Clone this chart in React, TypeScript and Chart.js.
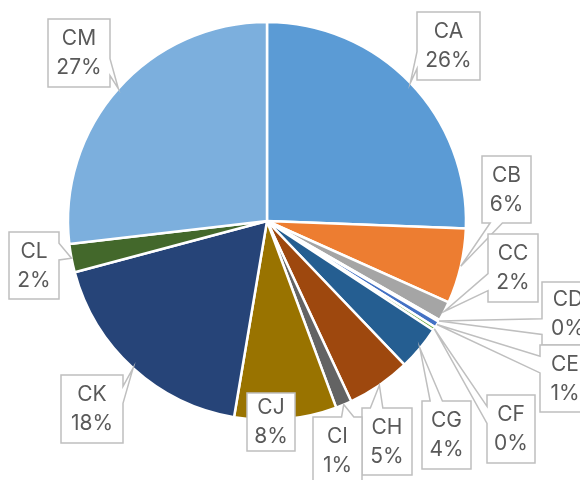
import React, { useEffect, useRef } from 'react';
import { Chart, registerables } from 'chart.js';

Chart.register(...registerables);

const categories = ['CA', 'CB', 'CC', 'CD', 'CE', 'CF', 'CG', 'CH', 'CI', 'CJ', 'CK', 'CL', 'CM'];
const values = [25.6, 6.1, 1.6, 0.15, 0.52, 0.28, 3.6, 5.2, 1.3, 8.3, 18.2, 2.3, 26.85];
const colors = [
  '#5B9BD5', '#ED7D31', '#A5A5A5', '#FFC000', '#4472C4', '#70AD47',
  '#255E91', '#9E480E', '#636363', '#997300', '#264478', '#43682B', '#7CAFDD',
];
// callout box layout: [left, top, width, height]
const labelBoxes: number[][] = [
  [417, 12, 63, 68],
  [482, 156, 49, 67],
  [488, 234, 50, 68],
  [542, 282, 52, 63],
  [540, 345, 50, 67],
  [487, 395, 48, 68],
  [422, 401, 49, 68],
  [362, 408, 50, 67],
  [313, 417, 49, 68],
  [247, 393, 48, 58],
  [61, 375, 62, 68],
  [9, 232, 50, 67],
  [48, 19, 62, 68],
];

const FONT = '21px Inter, "Open Sans", sans-serif';

const calloutPlugin = {
  id: 'callouts',
  afterDatasetsDraw(chart: any) {
    const ctx = chart.ctx;
    const meta = chart.getDatasetMeta(0);
    const data: number[] = chart.data.datasets[0].data;
    const total = data.reduce((a, b) => a + b, 0);
    meta.data.forEach((arc: any, i: number) => {
      const p = arc.getProps(['x', 'y', 'startAngle', 'endAngle', 'outerRadius'], true);
      const mid = (p.startAngle + p.endAngle) / 2;
      const tx = p.x + Math.cos(mid) * p.outerRadius;
      const ty = p.y + Math.sin(mid) * p.outerRadius;
      const [l, t, w, h] = labelBoxes[i];
      const r = l + w;
      const b = t + h;
      const hc = l + w / 2;
      const vc = t + h / 2;
      const dxPos = tx - hc;
      const dyPos = ty - vc;
      const inside = tx >= l && tx <= r && ty >= t && ty <= b;
      const dz = Math.abs(dyPos) - (Math.abs(dxPos) * h) / w;
      const x1 = l + (w * (dxPos > 0 ? 7 : 2)) / 12;
      const x2 = l + (w * (dxPos > 0 ? 10 : 5)) / 12;
      const y1 = t + (h * (dyPos > 0 ? 7 : 2)) / 12;
      const y2 = t + (h * (dyPos > 0 ? 10 : 5)) / 12;
      ctx.save();
      ctx.beginPath();
      ctx.moveTo(l, t);
      if (!inside && dz > 0 && dyPos < 0) {
        ctx.lineTo(x1, t);
        ctx.lineTo(tx, ty);
        ctx.lineTo(x2, t);
      }
      ctx.lineTo(r, t);
      if (!inside && dz <= 0 && dxPos > 0) {
        ctx.lineTo(r, y1);
        ctx.lineTo(tx, ty);
        ctx.lineTo(r, y2);
      }
      ctx.lineTo(r, b);
      if (!inside && dz > 0 && dyPos > 0) {
        ctx.lineTo(x2, b);
        ctx.lineTo(tx, ty);
        ctx.lineTo(x1, b);
      }
      ctx.lineTo(l, b);
      if (!inside && dz <= 0 && dxPos < 0) {
        ctx.lineTo(l, y2);
        ctx.lineTo(tx, ty);
        ctx.lineTo(l, y1);
      }
      ctx.closePath();
      ctx.fillStyle = '#FFFFFF';
      ctx.fill();
      ctx.lineWidth = 1.5;
      ctx.strokeStyle = '#BFBFBF';
      ctx.stroke();
      ctx.fillStyle = '#595959';
      ctx.font = FONT;
      ctx.textAlign = 'center';
      ctx.textBaseline = 'middle';
      const pct = Math.round((data[i] / total) * 100) + '%';
      ctx.fillText(String(chart.data.labels[i]), hc, vc - 14);
      ctx.fillText(pct, hc, vc + 15);
      ctx.restore();
    });
  },
};

export default function App() {
  const canvasRef = useRef<HTMLCanvasElement | null>(null);
  useEffect(() => {
    const canvas = canvasRef.current;
    if (!canvas) return;
    const chart = new Chart(canvas, {
      type: 'pie',
      data: {
        labels: categories,
        datasets: [
          {
            data: values,
            backgroundColor: colors,
            borderColor: '#FFFFFF',
            borderWidth: 2.5,
            radius: 199,
            hoverOffset: 0,
          } as any,
        ],
      },
      options: {
        responsive: false,
        animation: false,
        layout: { padding: { left: 68, right: 114, top: 22, bottom: 60 } },
        plugins: {
          legend: { display: false },
          tooltip: { enabled: false },
        },
      },
      plugins: [calloutPlugin],
    });
    return () => chart.destroy();
  }, []);
  return (
    <div style={{ position: 'absolute', left: 0, top: 0, width: 580, height: 480, background: '#fff' }}>
      <canvas ref={canvasRef} width={580} height={480} />
    </div>
  );
}
